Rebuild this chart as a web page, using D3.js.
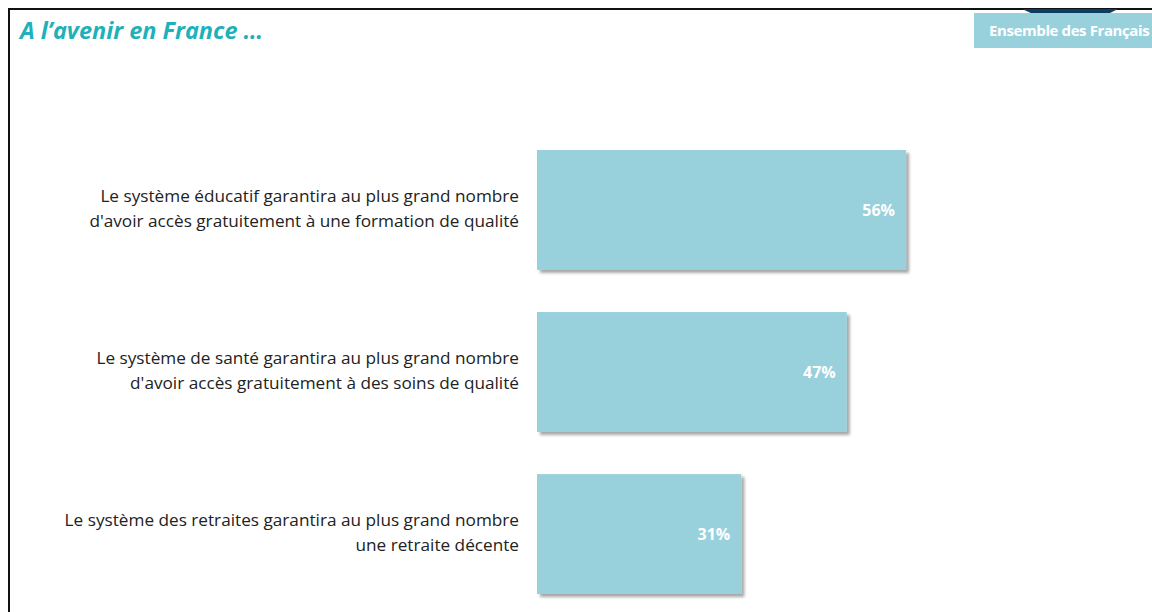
<!DOCTYPE html>
<meta charset="utf-8">
<script src="https://d3js.org/d3.v7.min.js"></script>
<style>
body { margin: 0; background: #fff; }
text { font-family: "Open Sans", "Noto Sans", sans-serif; }
</style>
<div id="chart"></div>
<script>
// data
const labels = [
  ["Le système éducatif garantira au plus grand nombre", "d'avoir accès gratuitement à une formation de qualité"],
  ["Le système de santé garantira au plus grand nombre", "d'avoir accès gratuitement à des soins de qualité"],
  ["Le système des retraites garantira au plus grand nombre", "une retraite décente"]
];
const values = [56, 47, 31];
const keys = ["edu", "sante", "retraite"];

const W = 1152, H = 612;
const svg = d3.select("#chart").append("svg")
  .attr("width", W).attr("height", H);

const defs = svg.append("defs");
const f = defs.append("filter").attr("id", "shadow")
  .attr("x", "-5%").attr("y", "-5%").attr("width", "115%").attr("height", "120%");
f.append("feDropShadow").attr("dx", 3).attr("dy", 3).attr("stdDeviation", 1.5)
  .attr("flood-color", "#000").attr("flood-opacity", 0.35);

// frame
svg.append("line").attr("x1", 8).attr("x2", W).attr("y1", 9).attr("y2", 9)
  .attr("stroke", "#111").attr("stroke-width", 2);
svg.append("line").attr("x1", 9).attr("x2", 9).attr("y1", 8).attr("y2", H)
  .attr("stroke", "#111").attr("stroke-width", 2);

// title
svg.append("text").attr("x", 20).attr("y", 39)
  .attr("fill", "#1fb1ba").style("font-size", "23.5px")
  .style("font-weight", "bold").style("font-style", "italic")
  .text("A l’avenir en France …");

// badge top right
svg.append("path")
  .attr("d", "M1022,9 L1118,9 L1108,14 L1033,14 Z")
  .attr("fill", "#0d3d63");
svg.append("rect").attr("x", 974).attr("y", 13).attr("width", W - 974).attr("height", 35)
  .attr("fill", "#98d1dc");
svg.append("text").attr("x", 989).attr("y", 36)
  .attr("fill", "#fff").style("font-size", "15px").style("font-weight", "bold")
  .style("letter-spacing", "-0.4px")
  .text("Ensemble des Français");

// scales
const x = d3.scaleLinear().domain([0, 100]).range([537, 1196]);
const y = d3.scaleBand().domain(keys).range([150, 594]).paddingInner(0.26).paddingOuter(0);

const g = svg.selectAll("g.row").data(keys).join("g").attr("class", "row");

g.append("rect")
  .attr("x", x(0))
  .attr("y", d => y(d))
  .attr("width", (d, i) => x(values[i]) - x(0))
  .attr("height", y.bandwidth())
  .attr("fill", "#98d1dc")
  .attr("filter", "url(#shadow)");

g.append("text")
  .attr("x", (d, i) => x(values[i]) - 11)
  .attr("y", d => y(d) + y.bandwidth() / 2 + 6)
  .attr("text-anchor", "end")
  .attr("fill", "#fff")
  .style("font-size", "16px").style("font-weight", "bold")
  .text((d, i) => values[i] + "%");

g.append("text")
  .attr("text-anchor", "end")
  .attr("fill", "#222")
  .style("font-size", "17.2px")
  .selectAll("tspan")
  .data((d, i) => labels[i].map(t => ({t, k: d})))
  .join("tspan")
    .attr("x", 519)
    .attr("y", (d, j) => y(d.k) + y.bandwidth() / 2 - 8 + j * 25)
    .text(d => d.t);
</script>
